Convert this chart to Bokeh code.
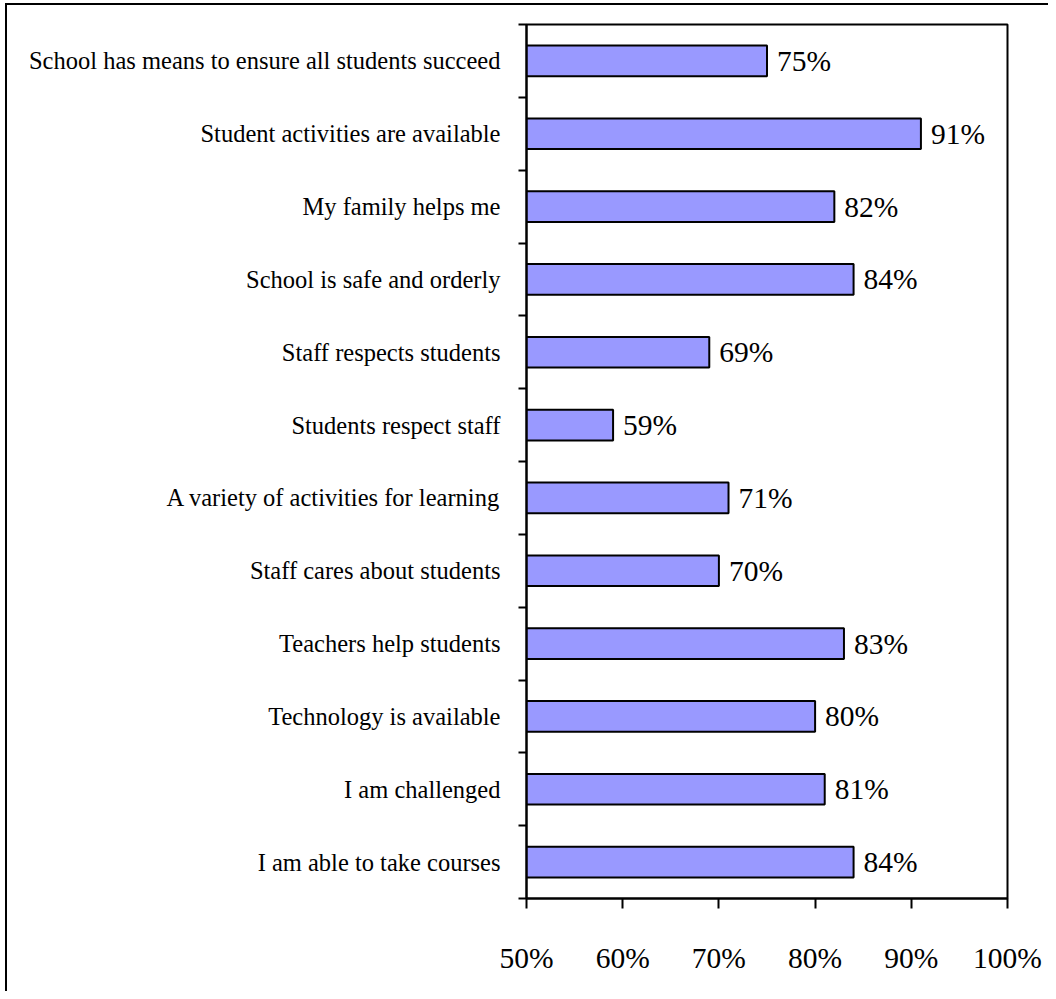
from bokeh.plotting import figure
from bokeh.models import Range1d, FixedTicker, PrintfTickFormatter, ColumnDataSource
from bokeh.core.properties import value
from bokeh.embed import file_html
from bokeh.resources import INLINE

categories = [
    "School has means to ensure all students succeed",
    "Student activities are available",
    "My family helps me",
    "School is safe and orderly",
    "Staff respects students",
    "Students respect staff",
    "A variety of activities for learning",
    "Staff cares about students",
    "Teachers help students",
    "Technology is available",
    "I am challenged",
    "I am able to take courses",
]
values = [75, 91, 82, 84, 69, 59, 71, 70, 83, 80, 81, 84]
x_ticks = [50, 60, 70, 80, 90, 100]

n = len(categories)
ypos = [n - 1 - i for i in range(n)]
labels = [f"{v}%" for v in values]

src = ColumnDataSource(dict(y=ypos, v=values, lab=labels))

FONT = "Liberation Serif"

p = figure(width=1048, height=991, output_backend="svg", toolbar_location=None,
           x_range=Range1d(50, 100), y_range=Range1d(-0.5, n - 0.5),
           min_border_left=526, min_border_top=24, min_border_right=41, min_border_bottom=93)
p.border_fill_color = None
p.background_fill_color = "white"
p.styles = {
    "background-color": "white",
    "background-image": "linear-gradient(black, black), linear-gradient(black, black)",
    "background-size": "2px 100%, 100% 2px",
    "background-position": "5px 3px, 5px 3px",
    "background-repeat": "no-repeat",
}
p.xgrid.visible = False
p.ygrid.visible = False
p.outline_line_color = "black"
p.outline_line_width = 2

p.hbar(y="y", left=50, right="v", height=0.42, source=src,
       fill_color="#9999FF", line_color="black", line_width=2)
p.text(x="v", y="y", text="lab", source=src, x_offset=10,
       text_baseline="middle", text_align="left",
       text_font=value(FONT), text_font_size="29.5px", text_color="black")

# x axis
xa = p.xaxis[0]
xa.ticker = FixedTicker(ticks=x_ticks)
xa.formatter = PrintfTickFormatter(format="%d%%")
xa.axis_line_color = "black"
xa.axis_line_width = 2
xa.major_tick_line_color = "black"
xa.major_tick_line_width = 2
xa.major_tick_in = 0
xa.major_tick_out = 10
xa.minor_tick_line_color = None
xa.major_label_text_font = FONT
xa.major_label_text_font_size = "29.5px"
xa.major_label_text_color = "black"
xa.major_label_standoff = 33

# y axis: labels at category centres, minor ticks at category boundaries
ya = p.yaxis[0]
ya.ticker = FixedTicker(ticks=ypos, minor_ticks=[i - 0.5 for i in range(n + 1)])
ya.major_label_overrides = {y: c for y, c in zip(ypos, categories)}
ya.axis_line_color = "black"
ya.axis_line_width = 2
ya.major_tick_line_color = None
ya.major_tick_in = 0
ya.major_tick_out = 0
ya.minor_tick_line_color = "black"
ya.minor_tick_line_width = 2
ya.minor_tick_in = 0
ya.minor_tick_out = 8
ya.major_label_text_font = FONT
ya.major_label_text_font_size = "24.5px"
ya.major_label_text_color = "black"
ya.major_label_standoff = 18

open("out.html", "w").write(file_html(p, INLINE))
